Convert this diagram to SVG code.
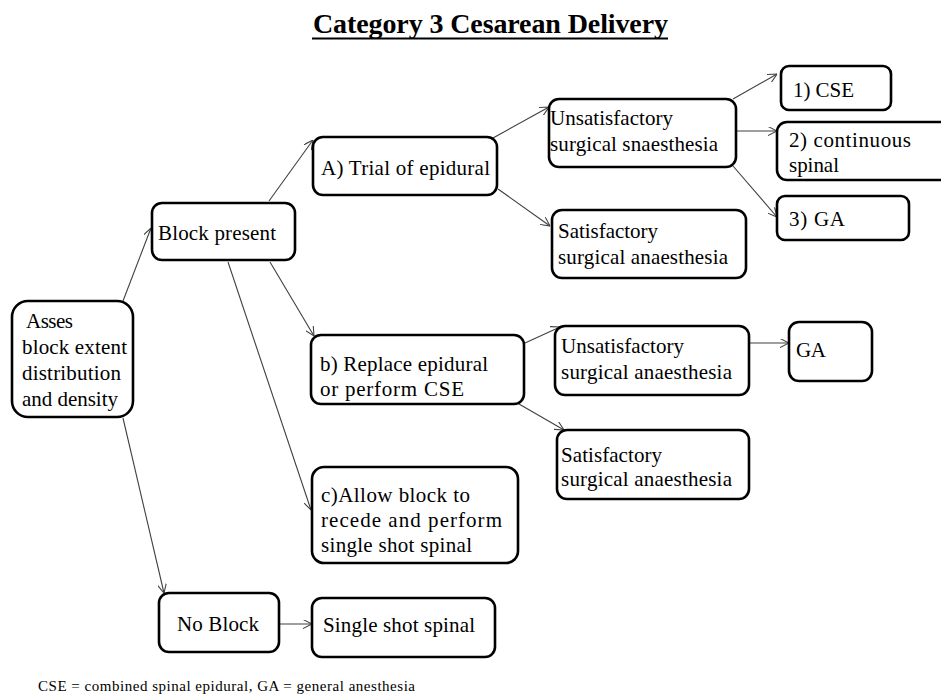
<svg xmlns="http://www.w3.org/2000/svg" width="941" height="696" viewBox="0 0 941 696">
<defs>
<style>
.box{fill:#fff;stroke:#000;stroke-width:2.6}
.t{font-family:'Liberation Serif',serif;font-size:21px;fill:#000}
.ft{font-family:'Liberation Serif',serif;font-size:15px;fill:#000}
.title{font-family:'Liberation Serif',serif;font-size:28px;font-weight:bold;fill:#000}
.c{stroke:#404040;stroke-width:1.1;fill:none;marker-end:url(#arr)}
</style>
<marker id="arr" viewBox="0 0 10 10" refX="10" refY="5" markerWidth="9" markerHeight="9" markerUnits="userSpaceOnUse" orient="auto">
<path d="M0,0 L10,5 L0,10" fill="none" stroke="#404040" stroke-width="1.2"/>
</marker>
</defs>
<rect width="941" height="696" fill="#fff"/>
<g id="title">
<text class="title" x="313" y="33" textLength="355" lengthAdjust="spacing">Category 3 Cesarean Delivery</text>
<line x1="312" y1="38.5" x2="668" y2="38.5" stroke="#000" stroke-width="2"/>
</g>
<g id="connectors">
<line class="c" x1="123" y1="301" x2="151" y2="228"/>
<line class="c" x1="269" y1="201" x2="313" y2="140"/>
<line class="c" x1="270" y1="262" x2="314" y2="336"/>
<line class="c" x1="228" y1="262" x2="311" y2="510"/>
<line class="c" x1="123" y1="418" x2="164" y2="593"/>
<line class="c" x1="279" y1="624" x2="312" y2="624"/>
<line class="c" x1="493" y1="138" x2="549" y2="107"/>
<line class="c" x1="498" y1="189" x2="550" y2="226"/>
<line class="c" x1="733" y1="99" x2="777" y2="74"/>
<line class="c" x1="737" y1="131" x2="777" y2="131"/>
<line class="c" x1="733" y1="166" x2="777" y2="217"/>
<line class="c" x1="525" y1="343" x2="560" y2="327"/>
<line class="c" x1="519" y1="404" x2="564" y2="430"/>
<line class="c" x1="750" y1="343" x2="789" y2="343"/>
</g>
<g id="asses">
<rect class="box" x="12" y="301" width="121" height="116" rx="16"/>
<text class="t" x="26" y="328" textLength="47" lengthAdjust="spacing">Asses</text>
<text class="t" x="22" y="354" textLength="105" lengthAdjust="spacing">block extent</text>
<text class="t" x="22" y="380" textLength="99" lengthAdjust="spacing">distribution</text>
<text class="t" x="22" y="406" textLength="96" lengthAdjust="spacing">and density</text>
</g>
<g id="block-present">
<rect class="box" x="152" y="203" width="143" height="57" rx="10"/>
<text class="t" x="158" y="240" textLength="118" lengthAdjust="spacing">Block present</text>
</g>
<g id="trial-epidural">
<rect class="box" x="313" y="137" width="184" height="58" rx="10"/>
<text class="t" x="321" y="175" textLength="169" lengthAdjust="spacing">A) Trial of epidural</text>
</g>
<g id="replace-epidural">
<rect class="box" x="311" y="335" width="213" height="69" rx="10"/>
<text class="t" x="320" y="371" textLength="168" lengthAdjust="spacing">b) Replace epidural</text>
<text class="t" x="320" y="396" textLength="144" lengthAdjust="spacing">or perform CSE</text>
</g>
<g id="allow-recede">
<rect class="box" x="312" y="467" width="206" height="96" rx="12"/>
<text class="t" x="321" y="502" textLength="149" lengthAdjust="spacing">c)Allow block to</text>
<text class="t" x="321" y="527" textLength="181" lengthAdjust="spacing">recede and perform</text>
<text class="t" x="321" y="552" textLength="151" lengthAdjust="spacing">single shot spinal</text>
</g>
<g id="no-block">
<rect class="box" x="159" y="593" width="120" height="59" rx="10"/>
<text class="t" x="177" y="631" textLength="82" lengthAdjust="spacing">No Block</text>
</g>
<g id="single-shot">
<rect class="box" x="312" y="598" width="183" height="59" rx="10"/>
<text class="t" x="323" y="632" textLength="152" lengthAdjust="spacing">Single shot spinal</text>
</g>
<g id="unsat-a">
<rect class="box" x="549" y="99" width="187" height="68" rx="10"/>
<text class="t" x="550" y="125" textLength="123" lengthAdjust="spacing">Unsatisfactory</text>
<text class="t" x="550" y="151" textLength="168" lengthAdjust="spacing">surgical snaesthesia</text>
</g>
<g id="cse">
<rect class="box" x="781" y="66" width="110" height="44" rx="8"/>
<text class="t" x="793" y="97" textLength="61" lengthAdjust="spacing">1) CSE</text>
</g>
<g id="continuous-spinal">
<rect class="box" x="777" y="122" width="190" height="58" rx="10"/>
<text class="t" x="789" y="147" textLength="122" lengthAdjust="spacing">2) continuous</text>
<text class="t" x="789" y="172" textLength="50" lengthAdjust="spacing">spinal</text>
</g>
<g id="ga-a">
<rect class="box" x="777" y="196" width="132" height="44" rx="8"/>
<text class="t" x="789" y="226" textLength="56" lengthAdjust="spacing">3) GA</text>
</g>
<g id="sat-a">
<rect class="box" x="552" y="210" width="194" height="68" rx="10"/>
<text class="t" x="558" y="238" textLength="100" lengthAdjust="spacing">Satisfactory</text>
<text class="t" x="558" y="264" textLength="170" lengthAdjust="spacing">surgical anaesthesia</text>
</g>
<g id="unsat-b">
<rect class="box" x="555" y="326" width="194" height="69" rx="10"/>
<text class="t" x="561" y="353" textLength="123" lengthAdjust="spacing">Unsatisfactory</text>
<text class="t" x="561" y="379" textLength="171" lengthAdjust="spacing">surgical anaesthesia</text>
</g>
<g id="ga-b">
<rect class="box" x="789" y="322" width="83" height="59" rx="10"/>
<text class="t" x="796" y="357" textLength="30" lengthAdjust="spacing">GA</text>
</g>
<g id="sat-b">
<rect class="box" x="557" y="430" width="192" height="69" rx="10"/>
<text class="t" x="561" y="462" textLength="101" lengthAdjust="spacing">Satisfactory</text>
<text class="t" x="561" y="486" textLength="171" lengthAdjust="spacing">surgical anaesthesia</text>
</g>
<g id="footnote">
<text class="ft" x="38" y="691" textLength="377" lengthAdjust="spacing">CSE = combined spinal epidural, GA = general anesthesia</text>
</g>
</svg>
